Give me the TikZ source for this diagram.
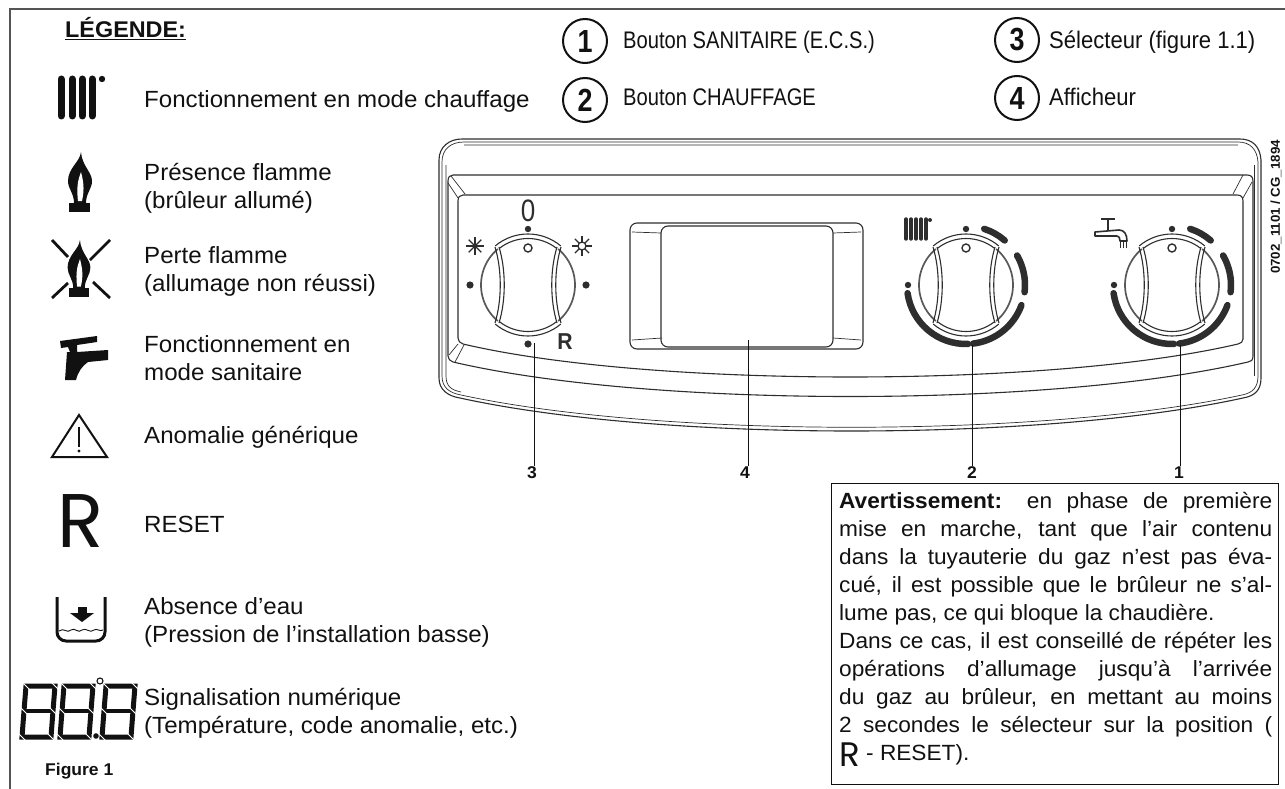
\documentclass[tikz,border=0pt]{standalone}
\usepackage{fontspec}
\setmainfont[FakeStretch=1.03]{Liberation Sans}
\newfontfamily\condfont[FakeStretch=0.84]{Liberation Sans}
\newfontfamily\midfont[FakeStretch=0.92]{Liberation Sans}
\newfontfamily\iconfont{Poppins}
\usepackage{xcolor}
\usetikzlibrary{arrows.meta,positioning,calc}
\definecolor{gkink}{HTML}{111111}
\definecolor{gkpanel}{HTML}{2E2E2E}
\definecolor{gkframe}{HTML}{555555}
\tikzset{
  legendtext/.style={anchor=base west,inner sep=0pt,align=left,font=\fontsize{23.4}{28}\selectfont,text=gkink},
  toptext/.style={anchor=base west,inner sep=0pt,font=\condfont\fontsize{24}{28}\selectfont,text=gkink},
  numbadge/.style={circle,draw=gkink,line width=2pt,minimum size=44pt,inner sep=0pt,font=\condfont\bfseries\fontsize{32}{34}\selectfont,text=gkink},
  calllabel/.style={inner sep=1pt,font=\bfseries\fontsize{17}{18}\selectfont,text=gkink},
  leader/.style={draw=gkink,line width=0.9pt},
  panelline/.style={draw=gkpanel,line width=1.1pt},
  panelthin/.style={draw=gkpanel,line width=0.7pt},
  dialbar/.style={draw=gkpanel,line width=6.5pt,line cap=round},
}
% one selector knob, centre at #1,#2
\newcommand{\knobbody}[2]{
  \begin{scope}[shift={(#1,#2)}]
    \draw[panelline,line width=1.7pt,draw=gkpanel!80] (130:47pt) arc[start angle=130,end angle=230,radius=47pt];
    \draw[panelline,line width=1.7pt,draw=gkpanel!80] (-50:47pt) arc[start angle=-50,end angle=50,radius=47pt];
    \draw[panelline] (130:51pt) arc[start angle=130,end angle=50,radius=51pt];
    \draw[panelline] (128:46.5pt) arc[start angle=128,end angle=52,radius=46.5pt];
    \draw[panelline] (-130:51pt) arc[start angle=-130,end angle=-50,radius=51pt];
    \draw[panelline] (-128:46.5pt) arc[start angle=-128,end angle=-52,radius=46.5pt];
    \draw[panelline] (-33,-38) .. controls (-26,-15) and (-26,15) .. (-33,38);
    \draw[panelline] (-29,-38) .. controls (-22,-15) and (-22,15) .. (-29,38);
    \draw[panelline] (33,-38) .. controls (26,-15) and (26,15) .. (33,38);
    \draw[panelline] (29,-38) .. controls (22,-15) and (22,15) .. (29,38);
    \draw[panelline,line width=1.4pt] (0,-37) circle[radius=4pt];
    \fill[gkpanel] (0,-56) circle[radius=3.2pt];
  \end{scope}
}
% the bars round a knob
\newcommand{\dialbars}[2]{
  \begin{scope}[shift={(#1,#2)}]
    \foreach \from/\to in {188/272,277/340,353/390,72/49}
      \draw[dialbar] (\from:59pt) arc[start angle=\from,end angle=\to,radius=59pt];
    \fill[gkpanel] (-58,0) circle[radius=3.2pt];
  \end{scope}
}
\newcommand{\flameicon}[3]{
  \begin{scope}[shift={(#1,#2)},scale=#3]
    \fill[gkink] (1,-60) .. controls (0,-50) and (-12,-44) .. (-12,-31) .. controls (-12,-23) and (-6,-19) .. (-6,-9)
      -- (6,-9) .. controls (6,-19) and (12,-23) .. (12,-31) .. controls (12,-40) and (2,-46) .. (1,-60) -- cycle;
    \fill[white] (1,-40) .. controls (-1,-34) and (-4,-28) .. (-2,-11) -- (2,-11) .. controls (5,-24) and (3,-32) .. (1,-40) -- cycle;
    \fill[gkink] (-11,-9) rectangle (10,0);
  \end{scope}
}
\begin{document}
\begin{tikzpicture}[x=1pt,y=-1pt]
  \useasboundingbox (0,0) rectangle (1285,789);
  \draw[draw=gkframe,line width=1.6pt] (10,789) -- (10,9) -- (1285,9);

  % legend
  \node[anchor=base west,inner sep=0pt,font=\bfseries\fontsize{22.7}{26}\selectfont,text=gkink] (legendtitle) at (65,38) {\underline{LÉGENDE:}};
  \node[legendtext] (leg1) at (144,108) {Fonctionnement en mode chauffage};
  \node[legendtext] (leg2) at (144,208) {Présence flamme\\(brûleur allumé)};
  \node[legendtext] (leg3) at (144,291) {Perte flamme\\(allumage non réussi)};
  \node[legendtext] (leg4) at (144,380) {Fonctionnement en\\mode sanitaire};
  \node[legendtext] (leg5) at (144,443) {Anomalie générique};
  \node[legendtext] (leg6) at (144,532) {RESET};
  \node[legendtext] (leg7) at (144,642) {Absence d’eau\\(Pression de l’installation basse)};
  \node[legendtext] (leg8) at (144,733) {Signalisation numérique\\(Température, code anomalie, etc.)};
  \node[anchor=base west,inner sep=0pt,font=\bfseries\fontsize{17}{18}\selectfont,text=gkink] (figlabel) at (45,775) {Figure 1};

  % radiator
  \foreach \bx in {61,72,82,92}
    \draw[gkink,line width=7pt,line cap=round] (\bx,79) -- (\bx,116);
  \fill[gkink] (102,79) circle[radius=3.2pt];
  % flames
  \flameicon{80}{212}{1}
  \flameicon{79}{297}{0.95}
  \draw[gkink,line width=2.8pt] (52,240) -- (68,257) (110,240) -- (90,260) (52,298) -- (68,283) (110,298) -- (93,282);
  % tap
  \fill[gkink] (60,341) -- (97,336) -- (97,342) -- (77,345) -- (77,352) -- (108,350) -- (108,360) -- (88,362)
    .. controls (82,366) and (78,372) .. (76,380) -- (65,380) -- (67,352) -- (70,352) -- (68,347) -- (61,348) -- cycle;
  % warning triangle
  \draw[gkink,line width=2pt,line join=miter] (79,415) -- (107,457) -- (52,457) -- cycle;
  \draw[gkink,line width=2.2pt] (79,427) -- (79,447);
  \fill[gkink] (79,451) circle[radius=1.6pt];
  % reset letter
  \node[anchor=base,inner sep=0pt,font=\iconfont\fontsize{76}{76}\selectfont,text=gkink] (reseticon) at (81,547) {R};
  % water level
  \draw[gkink,line width=3pt,rounded corners=9pt] (57,597) -- (57,641) -- (105,641) -- (105,597);
  \fill[gkink] (78,607) rectangle (87,614);
  \fill[gkink] (70,613) -- (94,613) -- (82,622) -- cycle;
  \draw[gkink,line width=0.9pt] (59,631) .. controls (64,627) and (67,634) .. (71,630) .. controls (75,627) and (78,634) .. (82,630)
    .. controls (86,627) and (90,634) .. (94,630) .. controls (97,628) and (100,632) .. (103,630);
  % display digits
  \foreach \dx in {22,60,102}{
    \draw[gkink,line width=5pt,line join=miter]
      (\dx+4,686) -- (\dx+33,686) -- (\dx+31,711) -- (\dx+29,737) -- (\dx,737) -- (\dx+2,711) -- cycle;
    \draw[gkink,line width=4pt] (\dx+2,711) -- (\dx+31,711);
    \foreach \px/\py in {4/686,33/686,31/711,29/737,0/737,2/711}
      \draw[white,line width=0.9pt] (\dx+\px-3.5,\py-3.5) -- (\dx+\px+3.5,\py+3.5);
  }
  \draw[gkink,line width=1.1pt] (100,681) circle[radius=3pt];
  \fill[gkink] (96,736) circle[radius=2.8pt];

  % numbered list
  \node[numbadge] (badge1) at (585,41) {1};
  \node[numbadge] (badge2) at (585,100) {2};
  \node[numbadge] (badge3) at (1017,40) {3};
  \node[numbadge] (badge4) at (1017,98) {4};
  \node[toptext] (item1) at (623,49) {Bouton SANITAIRE (E.C.S.)};
  \node[toptext] (item2) at (623,106) {Bouton CHAUFFAGE};
  \node[toptext,font=\midfont\fontsize{24}{28}\selectfont] (item3) at (1049,49) {Sélecteur (figure 1.1)};
  \node[toptext,font=\midfont\fontsize{24}{28}\selectfont] (item4) at (1049,106) {Afficheur};

  % panel shell
  \draw[panelline] (462,139) -- (1240,139) .. controls (1252,139) and (1260,146) .. (1261,160) -- (1261,378)
    .. controls (1261,390) and (1255,396) .. (1243,398) .. controls (1043,442) and (660,442) .. (460,398)
    .. controls (448,396) and (439,390) .. (439,378) -- (439,160) .. controls (439,147) and (449,139) .. (462,139) -- cycle;
  \draw[panelthin] (464,142) -- (1238,142) .. controls (1250,142) and (1257,149) .. (1258,162) -- (1258,376)
    .. controls (1258,388) and (1252,393) .. (1242,395) .. controls (1043,438) and (660,438) .. (461,395)
    .. controls (450,393) and (442,388) .. (442,376) -- (442,162) .. controls (442,149) and (451,142) .. (464,142) -- cycle;
  \draw[panelthin] (464,145) -- (1238,145) (446,165) -- (446,376) .. controls (446,387) and (452,390) .. (461,392);
  \draw[panelthin] (1254,165) -- (1254,376);
  % recess
  \draw[panelline] (453,175) -- (1247,175) .. controls (1251,175) and (1253,177) .. (1253,181) -- (1253,356)
    .. controls (1253,360) and (1251,362) .. (1248,362) .. controls (1050,408) and (650,408) .. (453,362)
    .. controls (450,361) and (448,359) .. (448,356) -- (448,181) .. controls (448,177) and (450,175) .. (453,175) -- cycle;
  \draw[panelline] (463,195) -- (1237,195) .. controls (1241,195) and (1243,197) .. (1243,201) -- (1243,339)
    .. controls (1243,342) and (1241,343) .. (1238,344) .. controls (1050,388) and (650,388) .. (463,344)
    .. controls (460,343) and (458,341) .. (458,338) -- (458,201) .. controls (458,197) and (460,195) .. (463,195) -- cycle;
  \draw[panelthin] (451,176) -- (465,194) (448,183) -- (458,198) (449,355) -- (458,344) (455,362) -- (464,345);
  \draw[panelthin] (1243,175) -- (1233,194) (1252,182) -- (1243,198);
  % display window
  \draw[panelline,rounded corners=7pt] (630,223) rectangle (863,349);
  \draw[panelline,rounded corners=7pt] (661,226) rectangle (833,347);
  \draw[panelthin] (632,232) -- (661,233) (632,340) -- (662,338) (861,232) -- (833,233) (861,340) -- (833,338);

  % knobs
  \knobbody{528}{285}
  \knobbody{966}{285}
  \knobbody{1172}{285}
  \dialbars{966}{285}
  \dialbars{1172}{285}
  \foreach \qx/\qy in {528/344,470/285,586/285}
    \fill[gkpanel] (\qx,\qy) circle[radius=3.6pt];
  \node[inner sep=0pt,font=\condfont\fontsize{31}{31}\selectfont,text=gkpanel] (markzero) at (528,211) {0};
  \node[inner sep=0pt,font=\midfont\bfseries\fontsize{23}{23}\selectfont,text=gkpanel] (markreset) at (565,342) {R};
  \foreach \ang in {0,45,...,315}
    \draw[gkpanel,line width=1.3pt] (475,246) -- +(\ang:9pt);
  \foreach \ang in {0,45,...,315}
    \draw[gkpanel,line width=1.3pt] (582,246) ++(\ang:4pt) -- ++(\ang:6pt);
  \draw[gkpanel,line width=1.3pt] (582,246) circle[radius=4pt];
  % small radiator
  \foreach \sx in {906,911,916,921,926}
    \draw[gkpanel,line width=3.4pt,line cap=round] (\sx,219) -- (\sx,239);
  \fill[gkpanel] (930,220) circle[radius=2pt];
  % small tap
  \draw[gkpanel,line width=1.6pt,line join=round] (1101,219) -- (1115,219) (1108,219) -- (1108,230);
  \draw[gkpanel,line width=1.6pt,line join=round] (1095,232) -- (1119,230) .. controls (1124,230) and (1127,234) .. (1127,241) -- (1120,241)
    .. controls (1120,238) and (1119,236) .. (1117,236) -- (1095,236) -- cycle;
  \foreach \wx in {1120,1123,1126}
    \draw[gkpanel,line width=1pt] (\wx,242) -- (\wx,248);

  % callouts
  \coordinate (pick3) at (534,343);
  \coordinate (pick4) at (748,340);
  \coordinate (pick2) at (972,345);
  \coordinate (pick1) at (1180,345);
  \node[calllabel] (lab3) at (532,473) {3};
  \node[calllabel] (lab4) at (745,473) {4};
  \node[calllabel] (lab2) at (972,473) {2};
  \node[calllabel] (lab1) at (1179,473) {1};
  \draw[leader] (pick3) -- (pick3 |- lab3.north);
  \draw[leader] (pick4) -- (pick4 |- lab4.north);
  \draw[leader] (pick2) -- (pick2 |- lab2.north);
  \draw[leader] (pick1) -- (pick1 |- lab1.north);

  \node[rotate=90,inner sep=0pt,font=\bfseries\fontsize{12.9}{14}\selectfont,text=gkink] (drawingcode) at (1276,207) {0702\_1101 / CG\_1894};

  % warning box
  \node[draw=gkink,line width=0.9pt,anchor=north west,inner sep=0pt,minimum width=447,minimum height=301] (notebox) at (831,483) {};
  \node[anchor=base west,inner sep=0pt,text width=433,align=justify,font=\fontsize{22}{28}\selectfont,text=gkink] (notetext) at (839,508)
    {\textbf{Avertissement:} en phase de première\linebreak
     mise en marche, tant que l’air contenu\linebreak
     dans la tuyauterie du gaz n’est pas éva-\linebreak
     cué, il est possible que le brûleur ne s’al-\linebreak
     lume pas, ce qui bloque la chaudière.\newline
     Dans ce cas, il est conseillé de répéter les\linebreak
     opérations d’allumage jusqu’à l’arrivée\linebreak
     du gaz au brûleur, en mettant au moins\linebreak
     2 secondes le sélecteur sur la position (\linebreak
     \raisebox{-6pt}[0pt][0pt]{\iconfont\fontsize{34}{34}\selectfont R} - RESET).};
\end{tikzpicture}
\end{document}
